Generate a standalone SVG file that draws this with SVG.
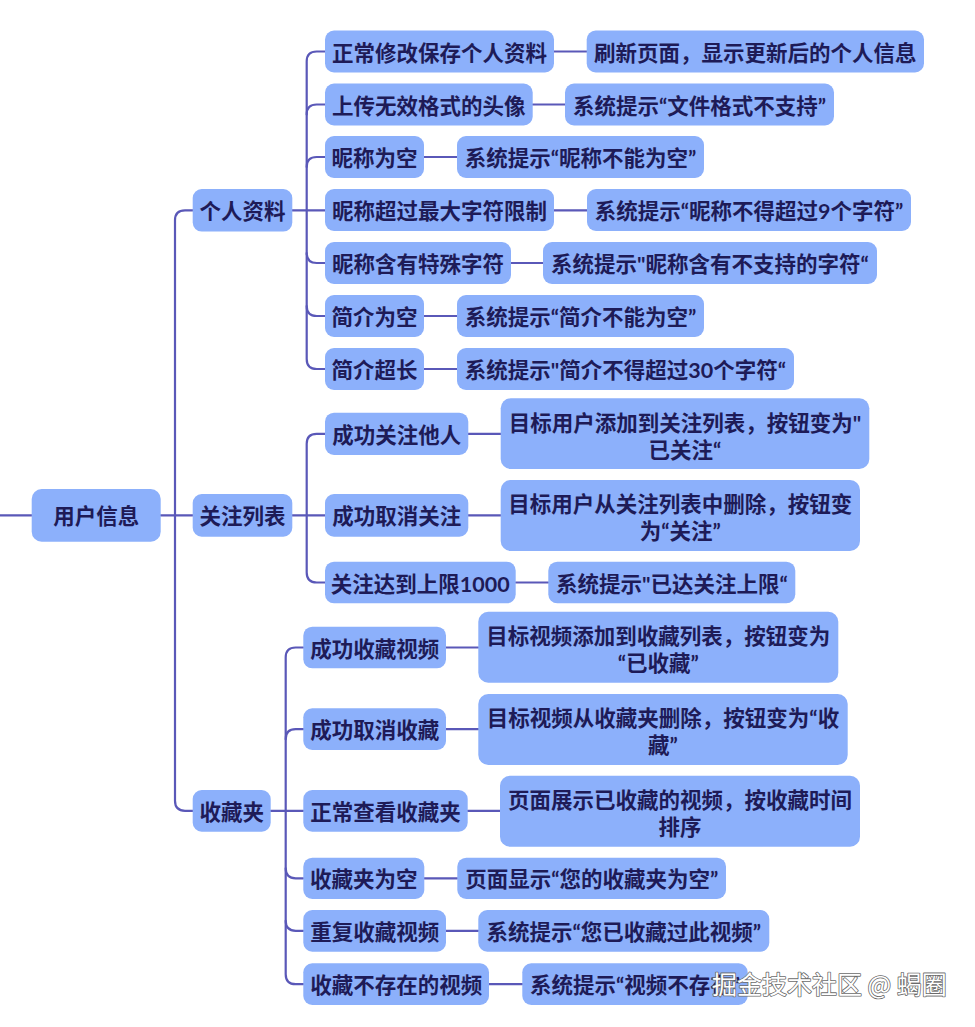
<svg xmlns="http://www.w3.org/2000/svg" width="975" height="1027" viewBox="0 0 975 1027">
<style>
.b{fill:#8cb0fb}
.t{font-family:"Lato","Noto Sans CJK SC",sans-serif;font-weight:700;font-size:21.5px;fill:#1e1b57;text-anchor:middle}
.c{fill:none;stroke:#5a58b8;stroke-width:2.2;stroke-linecap:round}
.wm{font-family:"Noto Sans CJK SC",sans-serif;font-size:25px;fill:#ffffff;stroke:#6b6b6b;stroke-width:1.6;paint-order:stroke;stroke-linejoin:round}
</style>
<rect width="975" height="1027" fill="#ffffff"/>
<g id="connectors" class="c">
  <path d="M0 515.3 H31.7"/>
  <path d="M160.7 515.3 H192.7"/>
  <path d="M192.7 210.3 H185 Q175 210.3 175 220.3 V800.8 Q175 810.8 185 810.8 H192.7"/>
  <path d="M325 51.5 H316.7 Q306.7 51.5 306.7 61.5 V359 Q306.7 369 316.7 369 H325"/>
  <path d="M306.7 114.5 Q306.7 104.5 316.7 104.5 H325"/>
  <path d="M306.7 167 Q306.7 157 316.7 157 H325"/>
  <path d="M292.3 210.3 H325"/>
  <path d="M306.7 253 Q306.7 263 316.7 263 H325"/>
  <path d="M306.7 306 Q306.7 316 316.7 316 H325"/>
  <path d="M554 51.5 H586.7"/>
  <path d="M532.7 104.5 H565"/>
  <path d="M424 157 H457"/>
  <path d="M554 210.3 H587"/>
  <path d="M511 263 H543"/>
  <path d="M424 316 H457"/>
  <path d="M424 369 H457"/>
  <path d="M325 433.8 H316.7 Q306.7 433.8 306.7 443.8 V572.5 Q306.7 582.5 316.7 582.5 H325"/>
  <path d="M292.3 515.3 H325"/>
  <path d="M468.3 433.8 H500.7"/>
  <path d="M468.3 515.3 H500.7"/>
  <path d="M515.7 582.5 H548.3"/>
  <path d="M303.3 647.5 H295.7 Q285.7 647.5 285.7 657.5 V974.2 Q285.7 984.2 295.7 984.2 H303.3"/>
  <path d="M285.7 739.2 Q285.7 729.2 295.7 729.2 H303.3"/>
  <path d="M270.7 810.8 H303.3"/>
  <path d="M285.7 868.3 Q285.7 878.3 295.7 878.3 H303.3"/>
  <path d="M285.7 920.8 Q285.7 930.8 295.7 930.8 H303.3"/>
  <path d="M446 647.5 H478.3"/>
  <path d="M446 729.2 H478.3"/>
  <path d="M467.7 810.8 H500"/>
  <path d="M424.3 878.3 H457.3"/>
  <path d="M446 930.8 H478.3"/>
  <path d="M489 984.2 H522.3"/>
</g>

<g id="root"><rect class="b" x="31.7" y="489" width="129" height="52.7" rx="10"/><text class="t" x="96.2" y="524.3">用户信息</text></g>

<g id="profile"><rect class="b" x="192.7" y="189" width="99.6" height="42.6" rx="9"/><text class="t" x="242.5" y="219.3">个人资料</text></g>
<g id="follow"><rect class="b" x="192.7" y="494" width="99.6" height="42.7" rx="9"/><text class="t" x="242.5" y="524.3">关注列表</text></g>
<g id="favorites"><rect class="b" x="192.7" y="790" width="78" height="41.7" rx="9"/><text class="t" x="231.7" y="819.8">收藏夹</text></g>

<g id="p1"><rect class="b" x="325" y="30.5" width="229" height="42" rx="9"/><text class="t" x="439.5" y="60.5">正常修改保存个人资料</text></g>
<g id="p1r"><rect class="b" x="586.7" y="30.5" width="337.3" height="42" rx="9"/><text class="t" x="755.3" y="60.5">刷新页面，显示更新后的个人信息</text></g>
<g id="p2"><rect class="b" x="325" y="83.5" width="207.7" height="42" rx="9"/><text class="t" x="428.8" y="113.5">上传无效格式的头像</text></g>
<g id="p2r"><rect class="b" x="565" y="83.5" width="269" height="42" rx="9"/><text class="t" x="699.5" y="113.5">系统提示“文件格式不支持”</text></g>
<g id="p3"><rect class="b" x="325" y="136" width="99" height="42" rx="9"/><text class="t" x="374.5" y="166">昵称为空</text></g>
<g id="p3r"><rect class="b" x="457" y="136" width="247" height="42" rx="9"/><text class="t" x="580.5" y="166">系统提示“昵称不能为空”</text></g>
<g id="p4"><rect class="b" x="325" y="189" width="229" height="42" rx="9"/><text class="t" x="439.5" y="219">昵称超过最大字符限制</text></g>
<g id="p4r"><rect class="b" x="587" y="189" width="324" height="42" rx="9"/><text class="t" x="749" y="219">系统提示“昵称不得超过9个字符”</text></g>
<g id="p5"><rect class="b" x="325" y="242" width="186" height="42" rx="9"/><text class="t" x="418" y="272">昵称含有特殊字符</text></g>
<g id="p5r"><rect class="b" x="543" y="242" width="334" height="42" rx="9"/><text class="t" x="710" y="272">系统提示"昵称含有不支持的字符“</text></g>
<g id="p6"><rect class="b" x="325" y="295" width="99" height="42" rx="9"/><text class="t" x="374.5" y="325">简介为空</text></g>
<g id="p6r"><rect class="b" x="457" y="295" width="247" height="42" rx="9"/><text class="t" x="580.5" y="325">系统提示“简介不能为空”</text></g>
<g id="p7"><rect class="b" x="325" y="348" width="99" height="42" rx="9"/><text class="t" x="374.5" y="378">简介超长</text></g>
<g id="p7r"><rect class="b" x="457" y="348" width="337" height="42" rx="9"/><text class="t" x="625.5" y="378">系统提示"简介不得超过30个字符“</text></g>

<g id="f1"><rect class="b" x="325" y="412.7" width="143.3" height="42.3" rx="9"/><text class="t" x="396.7" y="442.8">成功关注他人</text></g>
<g id="f1r"><rect class="b" x="500.7" y="398.3" width="368.6" height="70.7" rx="10"/><text class="t" x="685" y="430.5">目标用户添加到关注列表，按钮变为"</text><text class="t" x="685" y="457.5">已关注“</text></g>
<g id="f2"><rect class="b" x="325" y="494" width="143.3" height="42.7" rx="9"/><text class="t" x="396.7" y="524.3">成功取消关注</text></g>
<g id="f2r"><rect class="b" x="500.7" y="480" width="359.3" height="71" rx="10"/><text class="t" x="680.3" y="512">目标用户从关注列表中删除，按钮变</text><text class="t" x="680.3" y="539">为“关注”</text></g>
<g id="f3"><rect class="b" x="325" y="561.7" width="190.7" height="41.6" rx="9"/><text class="t" x="420.3" y="591.5">关注达到上限1000</text></g>
<g id="f3r"><rect class="b" x="548.3" y="561.7" width="247" height="41.6" rx="9"/><text class="t" x="671.8" y="591.5">系统提示"已达关注上限“</text></g>

<g id="v1"><rect class="b" x="303.3" y="626.7" width="142.7" height="41.6" rx="9"/><text class="t" x="374.7" y="656.5">成功收藏视频</text></g>
<g id="v1r"><rect class="b" x="478.3" y="611.7" width="360" height="71" rx="10"/><text class="t" x="658.3" y="643.5">目标视频添加到收藏列表，按钮变为</text><text class="t" x="658.3" y="670.5">“已收藏”</text></g>
<g id="v2"><rect class="b" x="303.3" y="708.3" width="142.7" height="41.7" rx="9"/><text class="t" x="374.7" y="738.2">成功取消收藏</text></g>
<g id="v2r"><rect class="b" x="478.3" y="694" width="369.4" height="71" rx="10"/><text class="t" x="663" y="726">目标视频从收藏夹删除，按钮变为“收</text><text class="t" x="663" y="753">藏”</text></g>
<g id="v3"><rect class="b" x="303.3" y="790" width="164.4" height="41.7" rx="9"/><text class="t" x="385.5" y="819.8">正常查看收藏夹</text></g>
<g id="v3r"><rect class="b" x="500" y="775.7" width="360" height="71" rx="10"/><text class="t" x="680" y="807.5">页面展示已收藏的视频，按收藏时间</text><text class="t" x="680" y="834.5">排序</text></g>
<g id="v4"><rect class="b" x="303.3" y="857.7" width="121" height="41.3" rx="9"/><text class="t" x="363.8" y="887.3">收藏夹为空</text></g>
<g id="v4r"><rect class="b" x="457.3" y="857.7" width="268.7" height="41.3" rx="9"/><text class="t" x="591.7" y="887.3">页面显示“您的收藏夹为空”</text></g>
<g id="v5"><rect class="b" x="303.3" y="910" width="142.7" height="41.7" rx="9"/><text class="t" x="374.7" y="939.8">重复收藏视频</text></g>
<g id="v5r"><rect class="b" x="478.3" y="910" width="291" height="41.7" rx="9"/><text class="t" x="623.8" y="939.8">系统提示“您已收藏过此视频”</text></g>
<g id="v6"><rect class="b" x="303.3" y="963.3" width="185.7" height="41.7" rx="9"/><text class="t" x="396.2" y="993.2">收藏不存在的视频</text></g>
<g id="v6r"><rect class="b" x="522.3" y="963.3" width="225.4" height="41.7" rx="9"/><text class="t" x="635" y="993.2">系统提示“视频不存在”</text></g>

<text class="wm" x="712" y="994">掘金技术社区 @ 蝎圈</text>
</svg>
